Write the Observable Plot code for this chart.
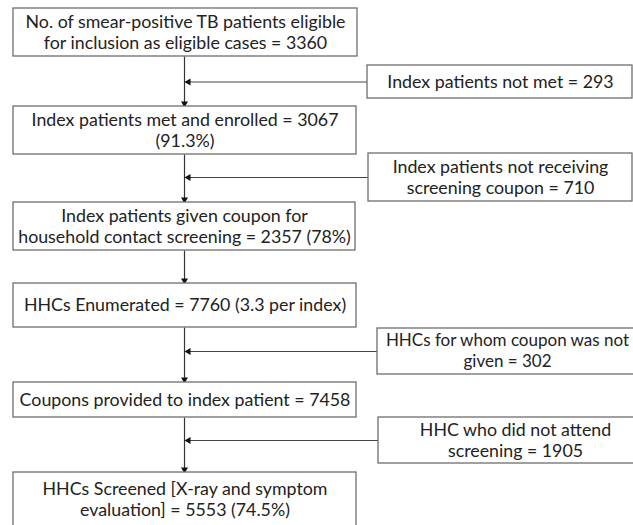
<!DOCTYPE html>
<html>
<head>
<meta charset="utf-8">
<script src="https://cdn.jsdelivr.net/npm/d3@7"></script>
<script src="https://cdn.jsdelivr.net/npm/@observablehq/plot@0.6"></script>
<style>
  html, body { margin: 0; padding: 0; background: #fff; }
  #chart svg { display: block; }
</style>
</head>
<body>
<div id="chart"></div>
<script>
// ---- Data: flow steps (main column) ----
const mainLines = [
  ["No. of smear-positive TB patients eligible", "for inclusion as eligible cases = 3360"],
  ["Index patients met and enrolled = 3067", "(91.3%)"],
  ["Index patients given coupon for", "household contact screening = 2357 (78%)"],
  ["HHCs Enumerated = 7760 (3.3 per index)"],
  ["Coupons provided to index patient = 7458"],
  ["HHCs Screened [X-ray and symptom", "evaluation] = 5553 (74.5%)"]
];
// ---- Data: exclusions (side boxes) ----
const sideLines = [
  ["Index patients not met = 293"],
  ["Index patients not receiving", "screening coupon = 710"],
  ["HHCs for whom coupon was not", "given = 302"],
  ["HHC who did not attend", "screening = 1905"]
];

// ---- Layout (pixel positions of the flowchart) ----
const mainX1 = [13, 13, 13, 13, 13, 13];
const mainX2 = [357, 356, 355, 356, 356, 356];
const mainY1 = [8, 106, 202, 283, 382, 472];
const mainY2 = [56, 154, 250, 327, 417, 532];
const sideX1 = [367, 368, 377, 378];
const sideX2 = [632, 632, 645, 645];
const sideY1 = [65, 153, 328, 417];
const sideY2 = [98, 201, 374, 463];
const sideTextX = [500, 500, 507, 515];
const sideFont = [17.8, 17.8, 17, 17.8];
const spineX = 184;

const mainBoxes = mainLines.map((l, i) => ({x1: mainX1[i], x2: mainX2[i], y1: mainY1[i], y2: mainY2[i]}));
const sideBoxes = sideLines.map((l, i) => ({x1: sideX1[i], x2: sideX2[i], y1: sideY1[i], y2: sideY2[i]}));

const lh = 21;
const texts = [];
mainLines.forEach((lines, i) => {
  const cy = i === 5 ? 499 : (mainY1[i] + mainY2[i]) / 2;
  lines.forEach((t, j) => texts.push({x: (mainX1[i] + mainX2[i]) / 2, y: cy + (j - (lines.length - 1) / 2) * lh, t, fs: 17.8}));
});
sideLines.forEach((lines, i) => {
  const cy = (sideY1[i] + sideY2[i]) / 2;
  lines.forEach((t, j) => texts.push({x: sideTextX[i], y: cy + (j - (lines.length - 1) / 2) * lh, t, fs: sideFont[i]}));
});

const spine = [];
for (let i = 0; i < mainLines.length - 1; i++) spine.push({x: spineX, y1: mainY2[i], y2: mainY1[i + 1]});
const heads = spine.map(s => ({x: spineX, y: s.y2 - 3, r: 180}));
const branches = sideLines.map((l, i) => ({x1: sideX1[i], x2: spineX + 1, y: (sideY1[i] + sideY2[i]) / 2}));
const sideHeads = branches.map(b => ({x: spineX + 4, y: b.y, r: -90}));

const chart = Plot.plot({
  width: 633,
  height: 525,
  margin: 0,
  x: {domain: [0, 633], range: [0, 633], axis: null},
  y: {domain: [0, 525], range: [0, 525], axis: null},
  style: {fontFamily: "Lato, 'Open Sans', sans-serif", background: "#fff"},
  marks: [
    Plot.link(spine, {x1: "x", x2: "x", y1: "y1", y2: "y2", stroke: "#333", strokeWidth: 1.2}),
    Plot.link(branches, {x1: "x1", x2: "x2", y1: "y", y2: "y", stroke: "#444", strokeWidth: 1}),
    Plot.dot(heads, {x: "x", y: "y", symbol: "triangle", r: 2.6, fill: "#111", stroke: "none", rotate: "r"}),
    Plot.dot(sideHeads, {x: "x", y: "y", symbol: "triangle", r: 2.6, fill: "#111", stroke: "none", rotate: "r"}),
    Plot.rect(mainBoxes, {x1: "x1", x2: "x2", y1: "y1", y2: "y2", fill: "#fff", stroke: "#6e6e6e", strokeWidth: 1.3}),
    Plot.rect(sideBoxes, {x1: "x1", x2: "x2", y1: "y1", y2: "y2", fill: "#fff", stroke: "#6e6e6e", strokeWidth: 1.3}),
    Plot.text(texts.filter(d => d.fs === 17.8), {x: "x", y: "y", text: "t", fontSize: 17.8, fill: "#222", textAnchor: "middle", lineAnchor: "middle"}),
    Plot.text(texts.filter(d => d.fs !== 17.8), {x: "x", y: "y", text: "t", fontSize: 17, fill: "#222", textAnchor: "middle", lineAnchor: "middle"})
  ]
});
document.getElementById("chart").appendChild(chart);
</script>
</body>
</html>
